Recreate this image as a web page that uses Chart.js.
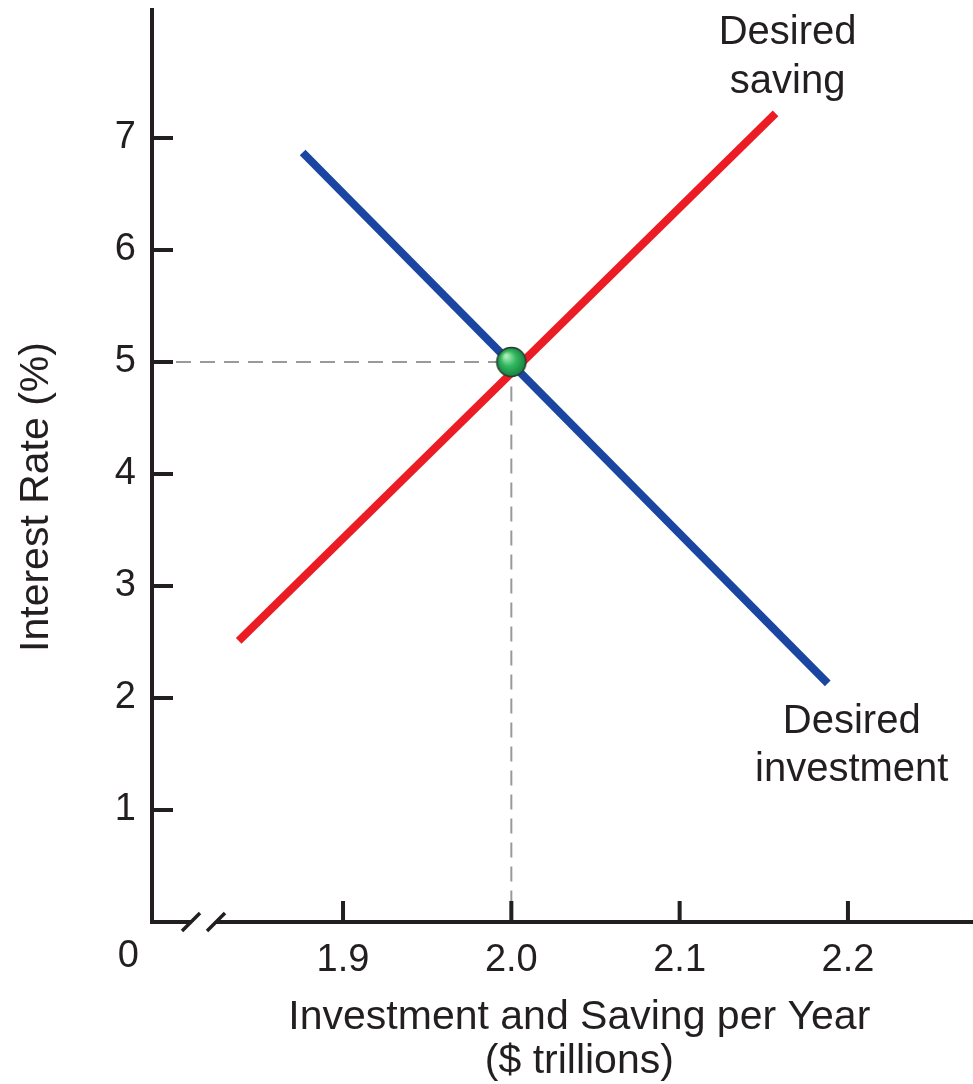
<!DOCTYPE html>
<html>
<head>
<meta charset="utf-8">
<title>Desired saving and investment</title>
<script src="https://cdn.jsdelivr.net/npm/chart.js@4.4.1/dist/chart.umd.min.js"></script>
<style>
  html, body { margin: 0; padding: 0; background: #fff; overflow: hidden; }
  canvas { display: block; }
</style>
</head>
<body>
<canvas id="grafico" width="973" height="1084"></canvas>
<script>
// Dados (x em $ trilhões, y em %)
const savingX = [1.838, 2.157];
const savingY = [2.51, 7.22];
const investX = [1.876, 2.188];
const investY = [6.87, 2.13];
const eqX = 2.0;
const eqY = 5;
const xTicks = [1.9, 2.0, 2.1, 2.2];
const yTicks = [1, 2, 3, 4, 5, 6, 7];
const xMin = 1.7865, xMax = 2.2743;
const yMin = 0, yMax = 8.16;

const FONT = '"Liberation Sans", Arial, Helvetica, sans-serif';
const INK = '#231f20';

// bolinha verde do equilíbrio
function bolinha(r) {
  const c = document.createElement('canvas');
  c.width = c.height = r * 2 + 2;
  const g = c.getContext('2d');
  const cx = r + 1;
  const grad = g.createRadialGradient(cx - r * 0.35, cx - r * 0.4, r * 0.1, cx, cx, r);
  grad.addColorStop(0, '#a8ecb4');
  grad.addColorStop(0.45, '#34b861');
  grad.addColorStop(1, '#13803f');
  g.beginPath();
  g.arc(cx, cx, r - 0.5, 0, Math.PI * 2);
  g.fillStyle = grad;
  g.fill();
  g.lineWidth = 1.5;
  g.strokeStyle = '#2b3a2f';
  g.stroke();
  return c;
}

const pontos = (xs, ys) => xs.map((x, i) => ({ x, y: ys[i] }));

// eixos, marcas, quebra e textos
const desenhoExtra = {
  id: 'desenhoExtra',
  afterDatasetsDraw(chart) {
    const { ctx, chartArea: a, scales: { x, y } } = chart;
    ctx.save();
    ctx.strokeStyle = INK;
    ctx.lineWidth = 4;
    ctx.lineCap = 'butt';

    // eixo y
    ctx.beginPath();
    ctx.moveTo(a.left, a.top);
    ctx.lineTo(a.left, a.bottom + 2);
    ctx.stroke();

    // eixo x com quebra
    ctx.beginPath();
    ctx.moveTo(a.left - 2, a.bottom);
    ctx.lineTo(a.left + 39, a.bottom);
    ctx.moveTo(a.left + 64, a.bottom);
    ctx.lineTo(a.right, a.bottom);
    ctx.stroke();
    ctx.lineWidth = 3.5;
    ctx.beginPath();
    ctx.moveTo(a.left + 30, a.bottom + 9);
    ctx.lineTo(a.left + 48, a.bottom - 9);
    ctx.moveTo(a.left + 55, a.bottom + 9);
    ctx.lineTo(a.left + 73, a.bottom - 9);
    ctx.stroke();

    // marcas para dentro
    ctx.lineWidth = 4;
    ctx.beginPath();
    yTicks.forEach(v => {
      const py = y.getPixelForValue(v);
      ctx.moveTo(a.left, py);
      ctx.lineTo(a.left + 21, py);
    });
    xTicks.forEach(v => {
      const px = x.getPixelForValue(v);
      ctx.moveTo(px, a.bottom);
      ctx.lineTo(px, a.bottom - 21);
    });
    ctx.stroke();

    ctx.fillStyle = INK;
    ctx.font = '38px ' + FONT;
    ctx.textAlign = 'right';
    ctx.textBaseline = 'alphabetic';
    ctx.fillText('0', a.left - 13, a.bottom + 45);

    // rótulos das curvas
    ctx.font = '40px ' + FONT;
    ctx.textAlign = 'center';
    const sx = x.getPixelForValue(savingX[1]), sy = y.getPixelForValue(savingY[1]);
    ctx.fillText('Desired', sx + 12, sy - 69);
    ctx.fillText('saving', sx + 12, sy - 20);
    const ix = x.getPixelForValue(investX[1]), iy = y.getPixelForValue(investY[1]);
    ctx.fillText('Desired', ix + 24, iy + 50);
    ctx.fillText('investment', ix + 24, iy + 98);

    // títulos dos eixos
    ctx.font = '41px ' + FONT;
    const midX = x.getPixelForValue(2.0) + 68;
    ctx.fillText('Investment and Saving per Year', midX, a.bottom + 107);
    ctx.fillText('($ trillions)', midX, a.bottom + 151);

    ctx.translate(48, (a.top + a.bottom) / 2 + 32);
    ctx.rotate(-Math.PI / 2);
    ctx.fillText('Interest Rate (%)', 0, 0);
    ctx.restore();
  }
};

new Chart(document.getElementById('grafico'), {
  type: 'scatter',
  data: {
    datasets: [
      {
        label: 'Equilibrium',
        data: [{ x: eqX, y: eqY }],
        pointStyle: bolinha(15),
        pointRadius: 15,
        showLine: false
      },
      {
        label: 'Desired saving',
        data: pontos(savingX, savingY),
        showLine: true,
        borderColor: '#ec1c24',
        borderWidth: 8,
        pointRadius: 0,
        clip: false
      },
      {
        label: 'Desired investment',
        data: pontos(investX, investY),
        showLine: true,
        borderColor: '#1a46a2',
        borderWidth: 8,
        pointRadius: 0,
        clip: false
      },
      {
        label: 'guia',
        data: [{ x: xMin, y: eqY }, { x: eqX, y: eqY }, { x: eqX, y: yMin }],
        showLine: true,
        borderColor: '#9a9a9a',
        borderWidth: 2,
        borderDash: [15, 9],
        pointRadius: 0
      }
    ]
  },
  options: {
    responsive: false,
    animation: false,
    layout: { autoPadding: false, padding: { top: 8, right: 0, left: 0, bottom: 0 } },
    plugins: { legend: { display: false }, tooltip: { enabled: false } },
    scales: {
      x: {
        type: 'linear',
        min: xMin,
        max: xMax,
        afterFit(s) {
          s.height = 162;
          s.paddingLeft = 0;
          s.paddingRight = 0;
        },
        afterBuildTicks(s) { s.ticks = xTicks.map(v => ({ value: v })); },
        grid: { display: false, drawTicks: false },
        border: { display: false },
        ticks: {
          padding: 16,
          color: INK,
          font: { family: FONT, size: 38 },
          callback: v => v.toFixed(1)
        }
      },
      y: {
        type: 'linear',
        min: yMin,
        max: yMax,
        afterFit(s) {
          s.width = 152;
          s.paddingTop = 0;
          s.paddingBottom = 0;
        },
        afterBuildTicks(s) { s.ticks = yTicks.map(v => ({ value: v })); },
        grid: { display: false, drawTicks: false },
        border: { display: false },
        ticks: {
          padding: 16,
          color: INK,
          font: { family: FONT, size: 38 }
        }
      }
    }
  },
  plugins: [desenhoExtra]
});
</script>
</body>
</html>
